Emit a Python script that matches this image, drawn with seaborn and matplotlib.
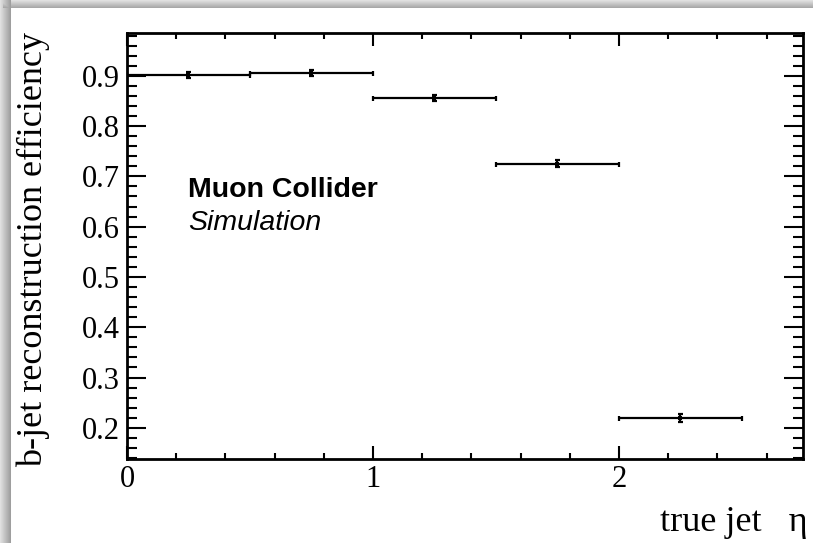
import numpy as np
import pandas as pd
import matplotlib
matplotlib.use("Agg")
import matplotlib.pyplot as plt
import seaborn as sns
from matplotlib.ticker import MultipleLocator

# Efficiency per bin of true jet eta
bin_lo = [0.0, 0.5, 1.0, 1.5, 2.0]
bin_hi = [0.5, 1.0, 1.5, 2.0, 2.5]
efficiency = [0.901, 0.906, 0.856, 0.725, 0.219]
eff_err = [0.006, 0.006, 0.006, 0.007, 0.008]

df = pd.DataFrame({"lo": bin_lo, "hi": bin_hi, "eff": efficiency, "err": eff_err})
df["center"] = (df["lo"] + df["hi"]) / 2
df["half"] = (df["hi"] - df["lo"]) / 2

sns.set_theme(style="ticks")
plt.rcParams["font.family"] = ["Liberation Serif", "DejaVu Serif"]
plt.rcParams["text.color"] = "black"
plt.rcParams["axes.labelcolor"] = "black"
plt.rcParams["xtick.color"] = "black"
plt.rcParams["ytick.color"] = "black"

W, H = 813, 543
fig = plt.figure(figsize=(W / 100, H / 100), dpi=100)

# Page background with a soft shadow along the left and top edges
bg = fig.add_axes([0, 0, 1, 1])
img = np.ones((H, W))
left_w, top_h = 11, 8
for i in range(left_w):
    img[:, i] = np.minimum(img[:, i], 0.88 - 0.26 * i / (left_w - 1))
for j in range(top_h):
    img[j, 3:] = np.minimum(img[j, 3:], 0.88 - 0.22 * j / (top_h - 1))
bg.imshow(np.dstack([img] * 3), aspect="auto", interpolation="bilinear")
bg.set_axis_off()

ax = fig.add_axes([127 / W, 1 - 459 / H, (803 - 127) / W, (459 - 33) / H])
ax.set_facecolor("white")

ax.errorbar(df["center"], df["eff"], xerr=df["half"], yerr=df["err"],
            fmt="none", ecolor="black", elinewidth=1.6, capsize=1.8,
            capthick=1.6, zorder=3)
sns.scatterplot(data=df, x="center", y="eff", ax=ax, color="black",
                marker="s", s=6, linewidth=0, zorder=4, legend=False)

ax.set_xlim(0, 2.748)
ax.set_ylim(0.138, 0.985)

ax.xaxis.set_minor_locator(MultipleLocator(0.2))
ax.yaxis.set_minor_locator(MultipleLocator(0.02))
yt = np.round(np.arange(0.2, 0.95, 0.1), 1)
ax.set_yticks(yt)
ax.set_yticklabels([f"{v:.1f}" for v in yt])
ax.set_xticks([0, 1, 2])
ax.set_xticklabels(["0", "1", "2"])

ax.tick_params(axis="both", which="both", direction="in", top=True,
               right=True, colors="black", labelcolor="black",
               labelsize=22, width=1.5)
ax.tick_params(axis="x", which="major", length=9.5, pad=4)
ax.tick_params(axis="x", which="minor", length=4.5)
ax.tick_params(axis="y", which="major", length=13.5, pad=5)
ax.tick_params(axis="y", which="minor", length=7)
for s in ax.spines.values():
    s.set_linewidth(2)
    s.set_color("black")

ax.set_xlabel("")
ax.set_ylabel("")
fig.text(808 / W, 1 - 531 / H, "true jet   \u03b7", ha="right", va="baseline",
         fontsize=26, color="black")
fig.text(33 / W, 1 - 250 / H, "b-jet reconstruction efficiency", rotation=90,
         ha="center", va="center", fontsize=26, color="black")

sans = ["Liberation Sans", "DejaVu Sans"]
fig.text(188 / W, 1 - 197 / H, "Muon Collider", fontsize=20.5, fontweight="bold",
         family=sans, ha="left", va="baseline", color="black")
fig.text(188 / W, 1 - 230 / H, "Simulation", fontsize=20.5, style="italic",
         family=sans, ha="left", va="baseline", color="black")

fig.savefig("out.png", dpi=100)
